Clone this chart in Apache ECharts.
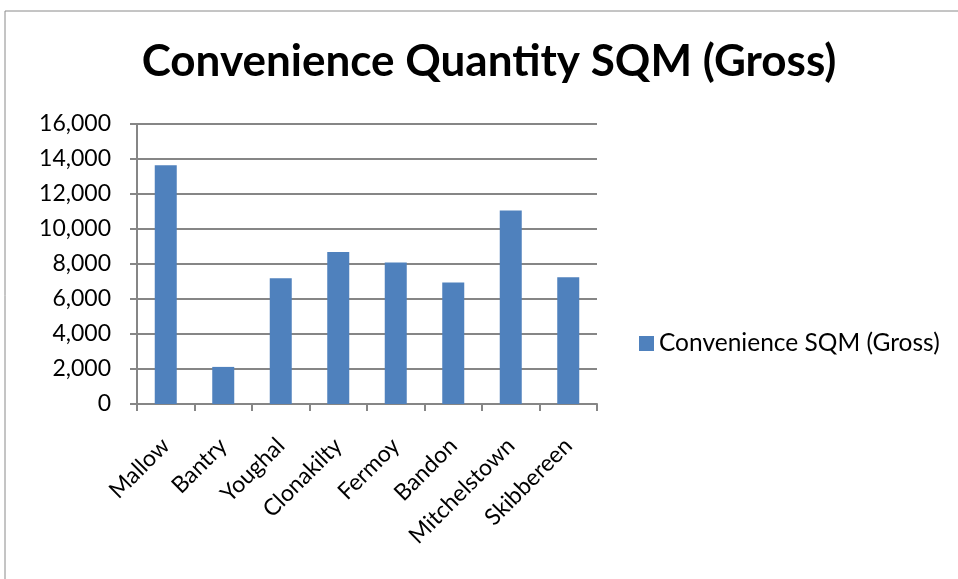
<!DOCTYPE html>
<html>
<head>
<meta charset="utf-8">
<script src="https://cdn.jsdelivr.net/npm/echarts@6/dist/echarts.min.js"></script>
<style>
  html, body { margin: 0; padding: 0; background: #fff; }
  #chart { width: 958px; height: 579px; }
</style>
</head>
<body>
<div id="chart"></div>
<script>
// Convenience floorspace (gross square metres) by town
const towns = ['Mallow', 'Bantry', 'Youghal', 'Clonakilty', 'Fermoy', 'Bandon', 'Mitchelstown', 'Skibbereen'];
const convenienceSqm = [13650, 2120, 7180, 8680, 8080, 6950, 11060, 7250];
const seriesName = 'Convenience SQM (Gross)';
const chartTitle = 'Convenience Quantity SQM (Gross)';

const FONT = 'Lato, "Open Sans", sans-serif';
const AXIS_GREY = '#868686';

const chart = echarts.init(document.getElementById('chart'), null, { renderer: 'canvas' });

chart.setOption({
  animation: false,
  backgroundColor: '#ffffff',
  textStyle: { fontFamily: FONT },
  graphic: [{
    type: 'rect',
    shape: { x: 5, y: 11, width: 1000, height: 600 },
    style: { fill: 'none', stroke: '#8a8a8a', lineWidth: 1 },
    silent: true,
    z: -1
  }],
  title: {
    text: chartTitle,
    left: 484,
    top: 35,
    textAlign: 'center',
    textStyle: { fontFamily: FONT, fontSize: 44, fontWeight: 'bold', color: '#000' }
  },
  legend: {
    data: [seriesName],
    orient: 'vertical',
    left: 639,
    top: 331,
    padding: 0,
    itemWidth: 15,
    itemHeight: 15,
    itemGap: 0,
    icon: 'rect',
    textStyle: { fontFamily: FONT, fontSize: 24.5, color: '#000' }
  },
  grid: { left: 137, right: 361, top: 124, bottom: 175, containLabel: false },
  xAxis: {
    type: 'category',
    data: towns,
    boundaryGap: true,
    axisLine: { lineStyle: { color: AXIS_GREY, width: 2 } },
    axisTick: { show: true, length: 7, alignWithLabel: false, lineStyle: { color: AXIS_GREY, width: 2 } },
    axisLabel: {
      rotate: 45,
      interval: 0,
      margin: 38,
      fontFamily: FONT,
      fontSize: 23,
      color: '#000'
    },
    splitLine: { show: false }
  },
  yAxis: {
    type: 'value',
    min: 0,
    max: 16000,
    interval: 2000,
    axisLine: { show: true, lineStyle: { color: AXIS_GREY, width: 2 } },
    axisTick: { show: true, length: 7, lineStyle: { color: AXIS_GREY, width: 2 } },
    axisLabel: {
      margin: 26,
      fontFamily: FONT,
      fontSize: 23,
      color: '#000',
      formatter: v => v.toLocaleString('en-US')
    },
    splitLine: { show: true, lineStyle: { color: AXIS_GREY, width: 2 } }
  },
  series: [{
    name: seriesName,
    type: 'bar',
    data: convenienceSqm,
    barWidth: 22,
    itemStyle: { color: '#4F81BD' }
  }]
});
</script>
</body>
</html>
